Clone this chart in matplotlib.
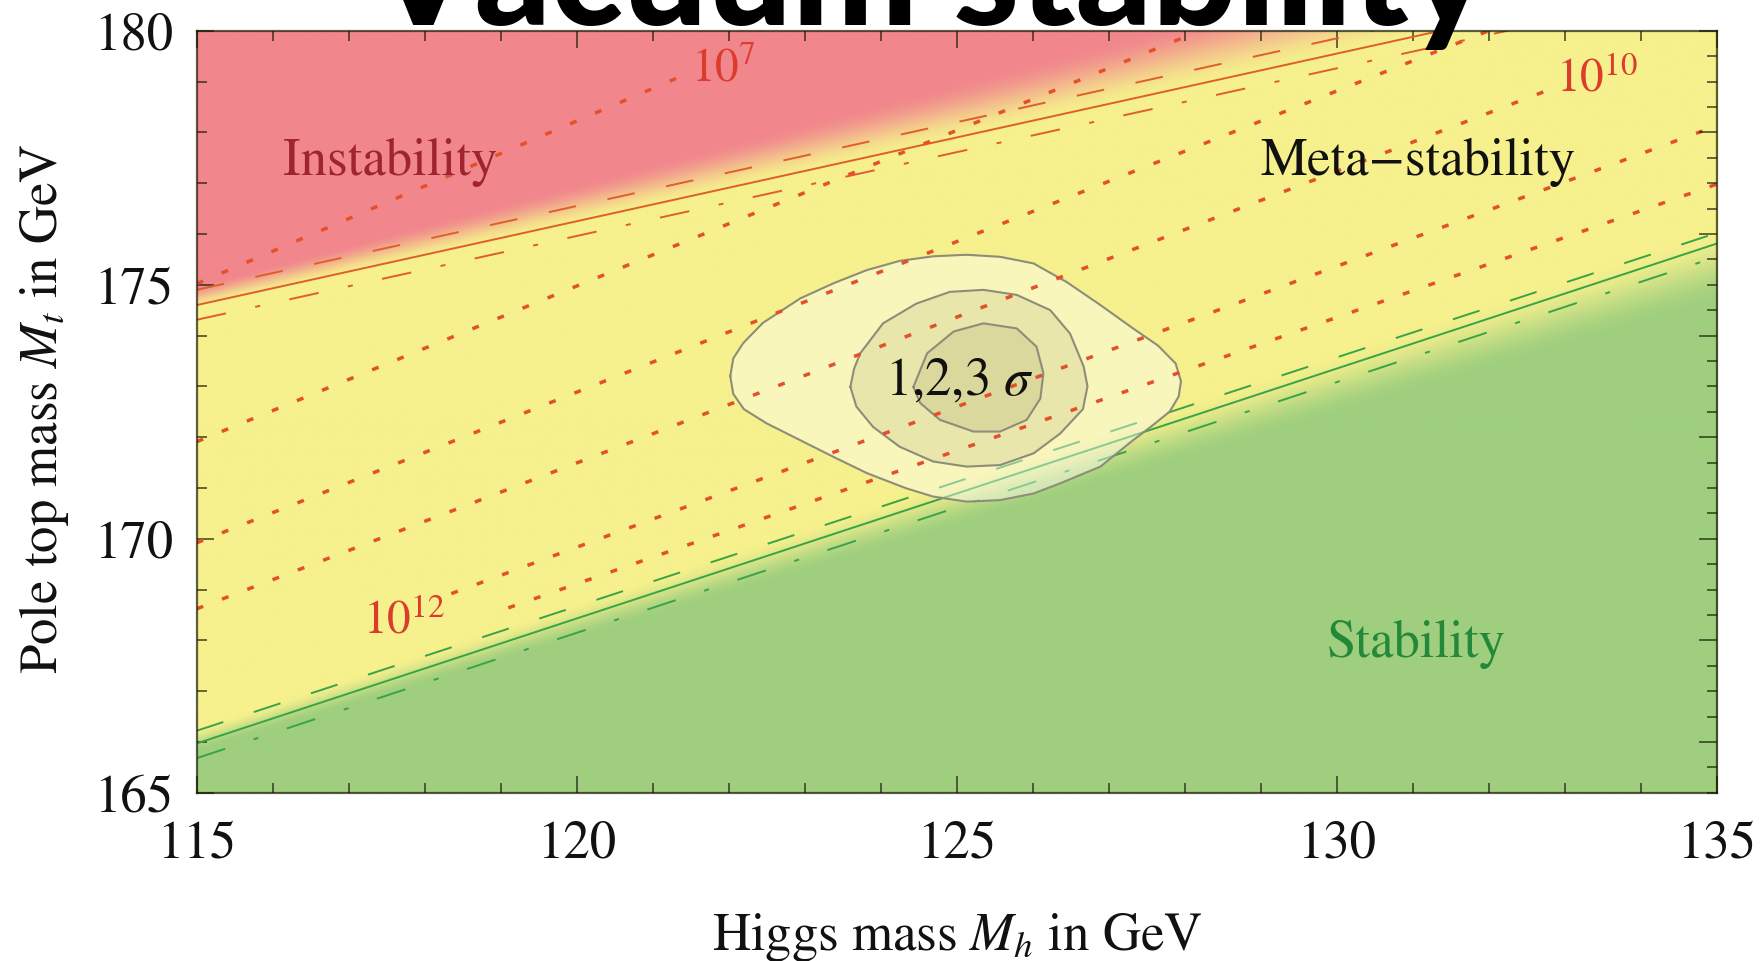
import numpy as np
import matplotlib
matplotlib.use("Agg")
import matplotlib.pyplot as plt
from matplotlib.ticker import MultipleLocator

plt.rcParams['font.family'] = ['STIXGeneral', 'DejaVu Serif']
plt.rcParams['mathtext.fontset'] = 'stix'

# ---------------------------------------------------------------- data
mh_range = [115.0, 135.0]          # Higgs mass axis (GeV)
mt_range = [165.0, 180.0]          # pole top mass axis (GeV)

# boundary lines, Mt at Mh = 115 and Mh = 135
bound_mh = [115.0, 135.0]
instab_central = [174.60, 181.20]
instab_upper = [174.90, 181.50]
instab_lower = [174.31, 180.91]
stab_central = [165.97, 175.81]
stab_upper = [166.22, 176.02]
stab_lower = [165.68, 175.55]

# instability-scale contours (log10 of Lambda / GeV), end points
lam_exponent = [7, 8, 9, 10, 12, 14]
lam_mh = [[115.0, 121.40], [115.0, 128.20], [115.0, 132.00],
          [115.0, 132.90], [118.35, 135.0], [119.10, 135.0]]
lam_mt = [[175.02, 179.12], [171.91, 180.00], [169.92, 180.00],
          [168.62, 178.90], [168.92, 178.13], [168.64, 176.98]]

# contour labels
lam_label_text = [r'$10^{7}$', r'$10^{10}$', r'$10^{12}$']
lam_label_mh = [121.51, 132.89, 117.19]
lam_label_mt = [179.00, 178.80, 168.14]

# experimental 1, 2, 3 sigma regions
sig3_mh = [122.02, 122.06, 122.19, 122.45, 122.94, 123.38, 123.82, 124.25,
           124.69, 125.13, 125.57, 126.01, 126.45, 126.89, 127.32, 127.65,
           127.88, 127.95, 127.92, 127.80, 127.55, 127.32, 126.89, 126.36,
           126.01, 125.57, 125.13, 124.69, 124.34, 123.82, 123.38, 122.94,
           122.50, 122.20, 122.06]
sig3_mt = [173.20, 173.55, 173.85, 174.25, 174.73, 175.03, 175.29, 175.47,
           175.56, 175.59, 175.55, 175.42, 175.05, 174.60, 174.14, 173.80,
           173.45, 173.10, 172.80, 172.50, 172.20, 171.94, 171.42, 171.09,
           170.89, 170.76, 170.73, 170.83, 170.99, 171.29, 171.61, 171.94,
           172.27, 172.55, 172.85]
sig2_mh = [123.60, 123.65, 123.73, 124.03, 124.47, 124.91, 125.35, 125.79,
           126.23, 126.49, 126.67, 126.72, 126.66, 126.36, 126.01, 125.57,
           125.13, 124.69, 124.25, 123.90, 123.68]
sig2_mt = [172.99, 173.35, 173.65, 174.24, 174.63, 174.86, 174.90, 174.80,
           174.50, 174.04, 173.39, 173.00, 172.55, 172.07, 171.68, 171.45,
           171.42, 171.52, 171.81, 172.20, 172.60]
sig1_mh = [124.43, 124.61, 124.96, 125.35, 125.79, 126.05, 126.14, 126.10,
           125.92, 125.57, 125.22, 124.78, 124.52]
sig1_mt = [172.99, 173.65, 174.08, 174.24, 174.14, 173.78, 173.26, 172.76,
           172.34, 172.11, 172.11, 172.34, 172.67]

# region names
region_text = ['Instability', 'Meta\u2212stability', 'Stability', r'1,2,3 $\sigma$']
region_mh = [116.14, 128.99, 129.87, 124.06]
region_mt = [177.16, 177.16, 167.68, 172.83]
region_color = ['#9E2430', '#111111', '#23883A', '#111111']

# ---------------------------------------------------------------- colours
RED = np.array([241, 135, 140]) / 255
YELLOW = np.array([246, 240, 141]) / 255
GREEN = np.array([159, 207, 126]) / 255
INST_LINE = '#DF5E2C'
STAB_LINE = '#38A347'
LAM_LINE = '#E2502C'
LAM_LABEL = '#DC3C2C'

fig = plt.figure(figsize=(17.61, 9.61), dpi=100)
ax = fig.add_axes([0.1117, 0.1751, 0.8632, 0.7929])
ax.set_xlim(*mh_range)
ax.set_ylim(*mt_range)


def smoothstep(t):
    t = np.clip(t, 0.0, 1.0)
    return t * t * (3.0 - 2.0 * t)


# graded background: instability (red), meta-stability (yellow), stability (green)
gx = np.linspace(mh_range[0], mh_range[1], 1000)
gy = np.linspace(mt_range[0], mt_range[1], 760)
GX, GY = np.meshgrid(gx, gy)
inst_c = np.interp(gx, bound_mh, instab_central)[None, :]
stab_c = np.interp(gx, bound_mh, stab_central)[None, :]
dx = GX - mh_range[0]
w_red = smoothstep((GY - inst_c + 0.05) / (0.45 + 0.07 * dx))
w_green = smoothstep((stab_c + 0.30 - GY) / (0.45 + 0.05 * dx))
w_yel = np.clip(1.0 - w_red - w_green, 0.0, 1.0)
rgb = (w_yel[..., None] * YELLOW + w_red[..., None] * RED
       + w_green[..., None] * GREEN)
ax.imshow(rgb, extent=[*mh_range, *mt_range], origin='lower',
          aspect='auto', interpolation='bilinear', zorder=0)

# boundary lines
dash = (0, (14.4, 16.5))
dashdot = (0, (15.4, 15.4, 2.6, 15.4))
for ys, ls, col in [(instab_upper, dash, INST_LINE),
                    (instab_central, '-', INST_LINE),
                    (instab_lower, dashdot, INST_LINE),
                    (stab_upper, dash, STAB_LINE),
                    (stab_central, '-', STAB_LINE),
                    (stab_lower, dashdot, STAB_LINE)]:
    ax.plot(bound_mh, ys, color=col, lw=1.4, ls=ls, zorder=2)

# sigma regions
ax.fill(sig3_mh, sig3_mt, facecolor='white', alpha=0.42, zorder=2.5, lw=0)
ax.fill(sig2_mh, sig2_mt, facecolor='#6E6A30', alpha=0.11, zorder=2.6, lw=0)
ax.fill(sig1_mh, sig1_mt, facecolor='#6E6A30', alpha=0.11, zorder=2.7, lw=0)
for xs, ys in [(sig3_mh, sig3_mt), (sig2_mh, sig2_mt), (sig1_mh, sig1_mt)]:
    ax.plot(xs + xs[:1], ys + ys[:1], color='#8D8D78', lw=1.5, zorder=2.8,
            solid_joinstyle='round')

# instability-scale contours
for xs, ys in zip(lam_mh, lam_mt):
    ax.plot(xs, ys, color=LAM_LINE, lw=2.5, ls=(0, (2.0, 5.8)), zorder=3)
for t, x, y in zip(lam_label_text, lam_label_mh, lam_label_mt):
    ax.text(x, y, t, color=LAM_LABEL, fontsize=34, ha='left', va='baseline',
            zorder=5)

for t, x, y, c in zip(region_text, region_mh, region_mt, region_color):
    ax.text(x, y, t, color=c, fontsize=38, ha='left', va='baseline', zorder=6)

# frame and ticks
frame = (0.10, 0.10, 0.02, 0.70)
for sp in ax.spines.values():
    sp.set_color(frame)
    sp.set_linewidth(1.6)
    sp.set_zorder(7)
ax.xaxis.set_major_locator(MultipleLocator(5))
ax.xaxis.set_minor_locator(MultipleLocator(1))
ax.yaxis.set_major_locator(MultipleLocator(5))
ax.yaxis.set_minor_locator(MultipleLocator(1))
ax.tick_params(which='both', direction='in', top=True, right=False,
               color=frame, width=1.3, labelsize=38, labelcolor='#111111')
ax.tick_params(which='major', length=12)
ax.tick_params(which='minor', length=7)
ax.tick_params(axis='x', pad=20)
ax.tick_params(axis='y', pad=17)

# right-hand frame ticks
axr = ax.twinx()
axr.set_ylim(*mt_range)
axr.yaxis.set_major_locator(MultipleLocator(2))
axr.yaxis.set_minor_locator(MultipleLocator(0.5))
axr.tick_params(which='both', direction='in', color=frame, width=1.3,
                labelright=False)
axr.tick_params(which='major', length=13)
axr.tick_params(which='minor', length=7)
for sp in axr.spines.values():
    sp.set_visible(False)

fig.text(0.5433, 0.0114, r'Higgs mass $M_h$ in GeV', fontsize=38,
         ha='center', va='baseline', color='#111111')
fig.text(0.0324, 0.575, r'Pole top mass $M_t$ in GeV', fontsize=38,
         ha='center', va='baseline', rotation=90, rotation_mode='anchor',
         color='#111111')

# heavy headline, partly above the canvas
title = fig.text(0.5276, 0.9735, 'Vacuum stability', fontsize=94,
                 fontfamily=['Lato', 'Open Sans', 'DejaVu Sans'],
                 fontweight=900, ha='center', va='baseline', color='black',
                 zorder=20)
fig.canvas.draw()
w = title.get_window_extent().width
title.set_fontsize(94 * 1118.0 / w)

fig.savefig('out.png', dpi=100)
